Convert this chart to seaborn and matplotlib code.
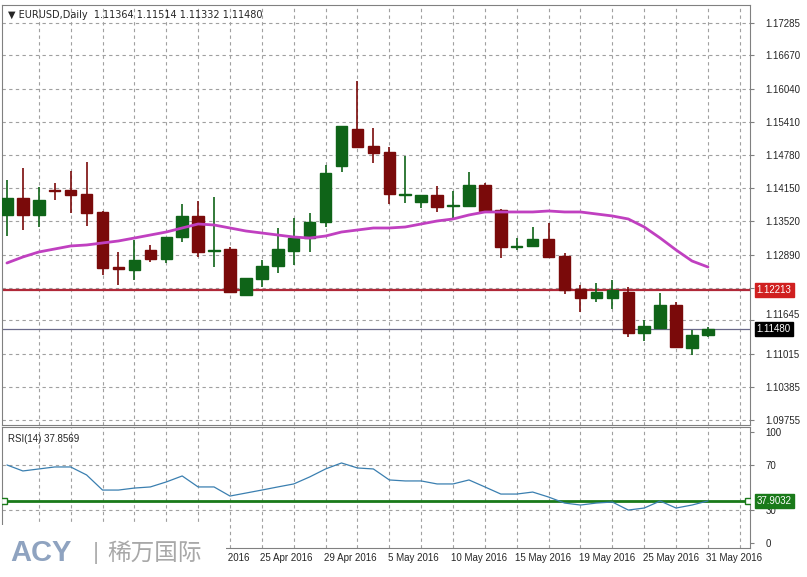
import matplotlib
matplotlib.use("Agg")
import matplotlib.pyplot as plt
import seaborn as sns
import pandas as pd
import numpy as np

sns.set_style("white")
plt.rcParams['font.family'] = ['Liberation Sans', 'DejaVu Sans', 'Noto Sans CJK SC']

opens = [1.13643,1.13965,1.13643,1.14117,1.14117,1.14041,1.13700,1.12656,1.12599,1.12979,
         1.12808,1.13225,1.13624,1.12960,1.12998,1.12125,1.12429,1.12675,1.12960,1.13206,
         1.13510,1.14572,1.15274,1.14952,1.14838,1.14022,1.13889,1.14022,1.13813,1.13813,
         1.14212,1.13738,1.13036,1.13055,1.13187,1.12865,1.12239,1.12068,1.12068,1.12182,
         1.11404,1.11499,1.11935,1.11120,1.11364]
highs = [1.14307,1.14534,1.14174,1.14250,1.14477,1.14648,1.13720,1.12941,1.13169,1.13074,
         1.13225,1.13851,1.13908,1.13984,1.13036,1.12448,1.12789,1.13396,1.13586,1.13681,
         1.14591,1.15331,1.16185,1.15293,1.14933,1.14762,1.14022,1.14193,1.14098,1.14458,
         1.14250,1.13757,1.13206,1.13415,1.13491,1.12922,1.12315,1.12353,1.12410,1.12277,
         1.11651,1.12163,1.11992,1.11461,1.11514]
lows = [1.13244,1.13358,1.13415,1.13927,1.13681,1.13434,1.12505,1.12315,1.12410,1.12751,
        1.12732,1.13131,1.12846,1.12656,1.12163,1.12110,1.12277,1.12542,1.12694,1.12941,
        1.13415,1.14458,1.14933,1.14629,1.13851,1.13870,1.13776,1.13700,1.13548,1.13795,
        1.13681,1.12827,1.12979,1.13036,1.12827,1.12144,1.11803,1.11992,1.11860,1.11328,
        1.11253,1.11480,1.11120,1.10987,1.11332]
closes = [1.13965,1.13643,1.13927,1.14098,1.14022,1.13681,1.12637,1.12618,1.12789,1.12808,
          1.13225,1.13624,1.12941,1.12979,1.12182,1.12448,1.12675,1.12998,1.13206,1.13510,
          1.14439,1.15331,1.14933,1.14819,1.14041,1.14041,1.14022,1.13795,1.13832,1.14212,
          1.13719,1.13036,1.13055,1.13187,1.12846,1.12220,1.12068,1.12182,1.12220,1.11404,
          1.11537,1.11935,1.11139,1.11366,1.11480]
ma = [1.12732,1.12846,1.12941,1.12998,1.13055,1.13074,1.13112,1.13150,1.13206,1.13263,
      1.13320,1.13396,1.13472,1.13453,1.13396,1.13339,1.13301,1.13263,1.13225,1.13206,
      1.13244,1.13320,1.13358,1.13396,1.13396,1.13415,1.13472,1.13529,1.13567,1.13643,
      1.13700,1.13700,1.13700,1.13700,1.13719,1.13700,1.13700,1.13662,1.13624,1.13567,
      1.13415,1.13206,1.12979,1.12770,1.12656]
rsi = [70.3,64.9,66.7,68.5,68.5,61.3,47.7,47.7,49.5,50.5,55.0,60.4,50.5,50.5,42.3,45.0,
       47.7,50.5,53.2,59.5,66.7,72.1,67.6,66.7,56.8,55.9,55.9,53.2,53.2,56.8,50.5,44.1,
       44.1,45.9,41.4,36.0,34.2,36.0,36.9,29.7,31.5,37.8,31.5,34.2,37.9]
price_ticks = [1.17285,1.16670,1.16040,1.15410,1.14780,1.14150,1.13520,1.12890,1.12260,
               1.11645,1.11015,1.10385,1.09755]
price_labels = ["1.17285","1.16670","1.16040","1.15410","1.14780","1.14150","1.13520",
                "1.12890","","1.11645","1.11015","1.10385","1.09755"]
date_idx = [12,16,20,24,28,32,36,40,44]
date_labels = ["21 Apr 2016","25 Apr 2016","29 Apr 2016","5 May 2016","10 May 2016",
               "15 May 2016","19 May 2016","25 May 2016","31 May 2016"]
red_level = 1.12213
last_price = 1.11480
rsi_level = 37.9032

df = pd.DataFrame(dict(i=np.arange(len(opens)), o=opens, h=highs, l=lows, c=closes, ma=ma, rsi=rsi))

fig = plt.figure(figsize=(8.07, 5.77), dpi=100)
fig.patch.set_facecolor("white")
W, H = 807, 577
def rect(l, t, r, b):
    return [l / W, 1 - b / H, (r - l) / W, (b - t) / H]

ax = fig.add_axes(rect(2, 5, 750, 425))
ax2 = fig.add_axes(rect(2, 427, 750, 548))
xlim = (-0.31, 46.64)
grid_x = list(range(2, 47, 2))
for a in (ax, ax2):
    a.set_xlim(*xlim)
    for gx in grid_x:
        a.axvline(gx, color="#a0a0a0", ls=(0, (3, 3)), lw=0.8, zorder=0)
    a.set_xticks([])
    for s in a.spines.values():
        s.set_color("#808080"); s.set_linewidth(0.8)

ax.set_ylim(1.09659, 1.17626)
for p in price_ticks:
    ax.axhline(p, color="#a0a0a0", ls=(0, (3, 3)), lw=0.8, zorder=0)
ax.yaxis.tick_right()
ax.set_yticks(price_ticks)
ax.set_yticklabels(price_labels, fontsize=7)
ax.tick_params(axis="y", length=3, pad=8, color="#808080")
for t in ax.get_yticklabels():
    if t.get_text() == "1.11645":
        t.set_va("bottom")

up = "#0f6418"; dn = "#7a0a0a"
for _, r in df.iterrows():
    col = up if r.c >= r.o else dn
    ax.vlines(r.i, r.l, r.h, color=col, lw=1.2, zorder=3)
    lo, hi = min(r.o, r.c), max(r.o, r.c)
    ax.bar(r.i, max(hi - lo, 0.00012), bottom=lo, width=0.72, color=col, edgecolor=col, zorder=4)

sns.lineplot(data=df, x="i", y="ma", ax=ax, color="#c040c0", lw=2, zorder=5)
ax.set_xlabel(""); ax.set_ylabel("")
ax.axhline(red_level, color="#b02838", lw=1.6, zorder=2)
ax.axhline(last_price, color="#6a6a8a", lw=0.9, zorder=2)
ax.text(0.008, 0.975, "\u25bc EURUSD,Daily  1.11364 1.11514 1.11332 1.11480",
        transform=ax.transAxes, fontsize=7, va="center", family=["DejaVu Sans"])
for val, txt, fc in [(red_level, "1.12213", "#d02020"), (last_price, "1.11480", "black")]:
    ax.text(1.009, val, txt, transform=ax.get_yaxis_transform(), fontsize=7, color="white",
            va="center", ha="left", bbox=dict(boxstyle="square,pad=0.2", fc=fc, ec=fc), clip_on=False, zorder=10)

ax2.set_ylim(-4.5, 104.5)
for g in (70, 30):
    ax2.axhline(g, color="#a0a0a0", ls=(0, (3, 3)), lw=0.8, zorder=0)
ax2.yaxis.tick_right()
ax2.set_yticks([100, 70, 30, 0])
ax2.set_yticklabels(["100", "70", "30", "0"], fontsize=7)
ax2.tick_params(axis="y", length=3, pad=8, color="#808080")
sns.lineplot(data=df, x="i", y="rsi", ax=ax2, color="#3a7fb0", lw=0.9, zorder=3)
ax2.set_xlabel(""); ax2.set_ylabel("")
ax2.axhline(rsi_level, color="#1a7a1a", lw=2, zorder=2)
ax2.plot([xlim[0] + 0.15, xlim[1] - 0.15], [rsi_level, rsi_level], "s", ms=4, mfc="white", mec="#1a7a1a", zorder=6)
ax2.text(1.009, rsi_level, "37.9032", transform=ax2.get_yaxis_transform(), fontsize=7, color="white",
         va="center", ha="left", bbox=dict(boxstyle="square,pad=0.2", fc="#1a7a1a", ec="#1a7a1a"), clip_on=False, zorder=10)
ax2.text(0.008, 0.9, "RSI(14) 37.8569", transform=ax2.transAxes, fontsize=7, va="center")
for i, lab in zip(date_idx, date_labels):
    ax2.text(i - 0.1, -0.04, lab, transform=ax2.get_xaxis_transform(), fontsize=7, ha="left", va="top")

# watermark
fig.patches.append(plt.Rectangle((0, 0), 226 / W, 52 / H, transform=fig.transFigure, fc="white", ec="none", zorder=20))
fig.text(10 / W, 1 - 553 / H, "ACY", fontsize=21, fontweight="bold", color="#8fa3c0", va="center", zorder=21)
fig.text(93 / W, 1 - 553 / H, "|", fontsize=17, color="#b0b0b0", va="center", zorder=21)
fig.text(107 / W, 1 - 553 / H, "稀万国际", fontsize=17, color="#a8a8a8", va="center", zorder=21,
         family=["Noto Sans CJK SC"])

fig.savefig("out.png", dpi=100, facecolor="white")
